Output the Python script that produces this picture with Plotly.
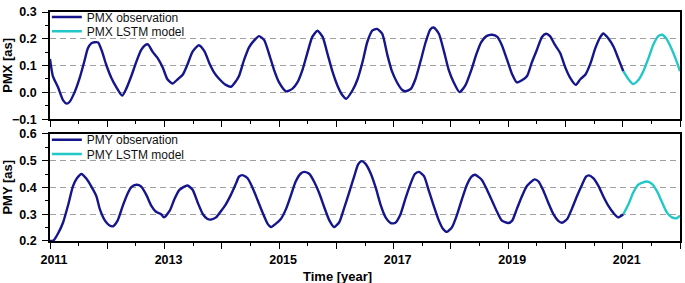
import plotly.graph_objects as go

# ---------------- data ----------------
pmx_obs_t = [2011.00, 2011.05, 2011.14, 2011.23, 2011.29, 2011.34, 2011.43, 2011.52, 2011.60, 2011.66,
             2011.72, 2011.78, 2011.84, 2011.90, 2011.98, 2012.07, 2012.16, 2012.26, 2012.33, 2012.42,
             2012.51, 2012.59, 2012.66, 2012.71, 2012.79, 2012.88, 2012.97, 2013.05, 2013.14, 2013.23,
             2013.32, 2013.40, 2013.49, 2013.60, 2013.70, 2013.78, 2013.87, 2013.96, 2014.07, 2014.16,
             2014.25, 2014.30, 2014.39, 2014.48, 2014.57, 2014.65, 2014.74, 2014.83, 2014.91, 2015.00,
             2015.12, 2015.23, 2015.32, 2015.41, 2015.50, 2015.58, 2015.67, 2015.76, 2015.85, 2015.93,
             2016.02, 2016.11, 2016.17, 2016.28, 2016.37, 2016.46, 2016.54, 2016.63, 2016.71, 2016.80,
             2016.89, 2016.97, 2017.06, 2017.15, 2017.21, 2017.30, 2017.38, 2017.47, 2017.56, 2017.64,
             2017.70, 2017.79, 2017.88, 2017.96, 2018.05, 2018.15, 2018.25, 2018.37, 2018.44, 2018.53,
             2018.62, 2018.72, 2018.81, 2018.89, 2018.98, 2019.07, 2019.15, 2019.24, 2019.33, 2019.41,
             2019.50, 2019.59, 2019.66, 2019.73, 2019.82, 2019.91, 2019.99, 2020.08, 2020.18, 2020.26,
             2020.35, 2020.44, 2020.52, 2020.61, 2020.66, 2020.75, 2020.84, 2020.92, 2021.01]
pmx_obs_v = [0.125, 0.061, 0.019, -0.030, -0.042, -0.036, 0.001, 0.055, 0.116, 0.164,
             0.183, 0.187, 0.186, 0.158, 0.104, 0.055, 0.019, -0.012, 0.013, 0.061,
             0.116, 0.158, 0.176, 0.179, 0.152, 0.128, 0.092, 0.049, 0.033, 0.049,
             0.067, 0.104, 0.152, 0.176, 0.152, 0.110, 0.073, 0.049, 0.028, 0.021,
             0.043, 0.061, 0.122, 0.170, 0.195, 0.210, 0.195, 0.140, 0.085, 0.037,
             0.004, 0.013, 0.037, 0.085, 0.152, 0.207, 0.230, 0.207, 0.140, 0.079,
             0.025, -0.012, -0.024, 0.007, 0.049, 0.116, 0.188, 0.231, 0.237, 0.219,
             0.140, 0.079, 0.037, 0.009, 0.004, 0.013, 0.049, 0.116, 0.188, 0.235,
             0.242, 0.219, 0.152, 0.085, 0.037, 0.001, 0.025, 0.092, 0.140, 0.188,
             0.210, 0.215, 0.207, 0.176, 0.122, 0.067, 0.037, 0.045, 0.061, 0.110,
             0.158, 0.207, 0.219, 0.210, 0.176, 0.146, 0.097, 0.055, 0.028, 0.049,
             0.067, 0.110, 0.164, 0.207, 0.220, 0.201, 0.170, 0.128, 0.079]

pmx_lstm_t = [2021.01, 2021.10, 2021.18, 2021.27, 2021.36, 2021.45, 2021.53, 2021.62, 2021.69,
              2021.76, 2021.85, 2021.93, 2022.00]
pmx_lstm_v = [0.079, 0.049, 0.031, 0.045, 0.079, 0.128, 0.176, 0.210, 0.215,
              0.201, 0.164, 0.122, 0.079]

pmy_obs_t = [2011.00, 2011.06, 2011.14, 2011.23, 2011.32, 2011.40, 2011.47, 2011.55, 2011.63, 2011.72,
             2011.81, 2011.87, 2011.96, 2012.04, 2012.10, 2012.18, 2012.27, 2012.36, 2012.42, 2012.51,
             2012.59, 2012.68, 2012.77, 2012.85, 2012.94, 2012.99, 2013.09, 2013.17, 2013.26, 2013.40,
             2013.49, 2013.58, 2013.67, 2013.75, 2013.81, 2013.90, 2013.99, 2014.07, 2014.16, 2014.25,
             2014.30, 2014.36, 2014.45, 2014.54, 2014.62, 2014.71, 2014.80, 2014.86, 2014.94, 2015.03,
             2015.12, 2015.21, 2015.29, 2015.38, 2015.44, 2015.53, 2015.61, 2015.70, 2015.79, 2015.88,
             2015.96, 2016.05, 2016.13, 2016.22, 2016.31, 2016.38, 2016.44, 2016.51, 2016.60, 2016.69,
             2016.77, 2016.86, 2016.95, 2017.03, 2017.12, 2017.21, 2017.30, 2017.37, 2017.44, 2017.53,
             2017.61, 2017.70, 2017.79, 2017.86, 2017.93, 2018.02, 2018.11, 2018.20, 2018.28, 2018.36,
             2018.42, 2018.54, 2018.63, 2018.72, 2018.81, 2018.89, 2019.00, 2019.07, 2019.15, 2019.24,
             2019.33, 2019.46, 2019.53, 2019.62, 2019.70, 2019.79, 2019.87, 2019.94, 2020.03, 2020.11,
             2020.20, 2020.29, 2020.36, 2020.41, 2020.49, 2020.58, 2020.66, 2020.75, 2020.84, 2020.92,
             2021.01]
pmy_obs_v = [0.200, 0.202, 0.228, 0.270, 0.337, 0.404, 0.434, 0.450, 0.434, 0.404,
             0.367, 0.319, 0.276, 0.258, 0.255, 0.276, 0.331, 0.379, 0.401, 0.410,
             0.404, 0.373, 0.331, 0.309, 0.300, 0.288, 0.313, 0.355, 0.391, 0.407,
             0.391, 0.343, 0.300, 0.282, 0.280, 0.288, 0.313, 0.337, 0.373, 0.416,
             0.440, 0.446, 0.434, 0.397, 0.355, 0.307, 0.264, 0.252, 0.264, 0.282,
             0.319, 0.373, 0.422, 0.452, 0.458, 0.450, 0.422, 0.379, 0.325, 0.276,
             0.252, 0.270, 0.319, 0.379, 0.440, 0.486, 0.498, 0.488, 0.452, 0.397,
             0.337, 0.288, 0.267, 0.268, 0.300, 0.361, 0.416, 0.450, 0.458, 0.442,
             0.391, 0.331, 0.276, 0.246, 0.234, 0.252, 0.300, 0.361, 0.410, 0.440,
             0.447, 0.428, 0.391, 0.349, 0.307, 0.276, 0.267, 0.276, 0.319, 0.367,
             0.406, 0.430, 0.422, 0.385, 0.343, 0.300, 0.276, 0.268, 0.282, 0.319,
             0.367, 0.410, 0.440, 0.445, 0.434, 0.404, 0.367, 0.331, 0.304, 0.288,
             0.300]

pmy_lstm_t = [2021.01, 2021.10, 2021.18, 2021.27, 2021.42, 2021.51, 2021.60, 2021.69, 2021.77,
              2021.86, 2021.94, 2022.00]
pmy_lstm_v = [0.300, 0.337, 0.379, 0.410, 0.422, 0.413, 0.385, 0.343, 0.307,
              0.288, 0.285, 0.295]

year_ticks = list(range(2011, 2023))
year_labels = [str(y) if y % 2 == 1 else "" for y in year_ticks]
half_year_ticks = [y + 0.5 for y in range(2011, 2022)]

OBS = "#15158c"
LSTM = "#22c8c8"
FONT = "Liberation Sans, Arial, sans-serif"

fig = go.Figure()
line_kw = dict(width=2.4, shape="spline", smoothing=0.6)
fig.add_trace(go.Scatter(x=pmx_obs_t, y=pmx_obs_v, mode="lines", name="PMX observation",
                         line=dict(color=OBS, **line_kw), xaxis="x", yaxis="y", legend="legend"))
fig.add_trace(go.Scatter(x=pmx_lstm_t, y=pmx_lstm_v, mode="lines", name="PMX LSTM model",
                         line=dict(color=LSTM, **line_kw), xaxis="x", yaxis="y", legend="legend2"))
fig.add_trace(go.Scatter(x=pmy_obs_t, y=pmy_obs_v, mode="lines", name="PMY observation",
                         line=dict(color=OBS, **line_kw), xaxis="x2", yaxis="y2", legend="legend3"))
fig.add_trace(go.Scatter(x=pmy_lstm_t, y=pmy_lstm_v, mode="lines", name="PMY LSTM model",
                         line=dict(color=LSTM, **line_kw), xaxis="x2", yaxis="y2", legend="legend4"))

top_dom = [0.532, 1.0]
bot_dom = [0.0, 0.468]

def xaxis(anchor, labels):
    return dict(domain=[0, 1], anchor=anchor, range=[2011, 2022], showgrid=False, zeroline=False,
                showline=True, linecolor="black", linewidth=1.5, mirror=True,
                ticks="outside", ticklen=6, tickwidth=1.2, tickcolor="black",
                tickmode="array", tickvals=year_ticks, ticktext=year_labels,
                showticklabels=labels, ticklabelshift=4,
                tickfont=dict(family=FONT, size=12.5, color="black", weight="bold"),
                minor=dict(tickmode="array", tickvals=half_year_ticks, ticks="outside",
                           ticklen=3.5, tickwidth=1.2, tickcolor="black", showgrid=False))

def yaxis(anchor, dom, rng):
    return dict(domain=dom, anchor=anchor, range=rng, dtick=0.1, tick0=0, tickformat=".1f",
                showgrid=True, gridcolor="#a0a0a0", gridwidth=1.2, griddash="6px,4px",
                zeroline=False, showline=True, linecolor="black", linewidth=1.5, mirror=True,
                ticks="outside", ticklen=6, tickwidth=1.2, tickcolor="black",
                ticklabelstandoff=3,
                tickfont=dict(family=FONT, size=12.5, color="black", weight="bold"),
                minor=dict(dtick=0.05, ticks="outside", ticklen=3.5, tickwidth=1.2,
                           tickcolor="black", showgrid=False))

def legend(y):
    return dict(x=-0.005, y=y, xanchor="left", yanchor="middle", bgcolor="rgba(0,0,0,0)",
                borderwidth=0, font=dict(family=FONT, size=12, color="#111"), itemwidth=30)

fig.update_layout(
    width=685, height=283,
    margin=dict(l=50, r=3, t=6, b=42),
    paper_bgcolor="white", plot_bgcolor="white",
    showlegend=True,
    xaxis=xaxis("y", False),
    yaxis=yaxis("x", top_dom, [-0.1, 0.3]),
    xaxis2=xaxis("y2", True),
    yaxis2=yaxis("x2", bot_dom, [0.2, 0.6]),
    legend=legend(0.978), legend2=legend(0.916),
    legend3=legend(0.442), legend4=legend(0.380),
    annotations=[
        dict(text="<b>PMX [as]</b>", xref="paper", yref="paper", x=-0.068, y=0.766,
             xanchor="center", yanchor="middle", textangle=-90, showarrow=False,
             font=dict(family=FONT, size=13, color="black")),
        dict(text="<b>PMY [as]</b>", xref="paper", yref="paper", x=-0.068, y=0.234,
             xanchor="center", yanchor="middle", textangle=-90, showarrow=False,
             font=dict(family=FONT, size=13, color="black")),
        dict(text="<b>Time [year]</b>", xref="paper", yref="paper", x=0.456, y=-0.153,
             xanchor="center", yanchor="middle", showarrow=False,
             font=dict(family=FONT, size=13, color="black")),
    ],
)

fig.write_html("out.html", config={"displayModeBar": False},
               post_script="document.body.style.margin='0';document.body.style.overflow='hidden';")
